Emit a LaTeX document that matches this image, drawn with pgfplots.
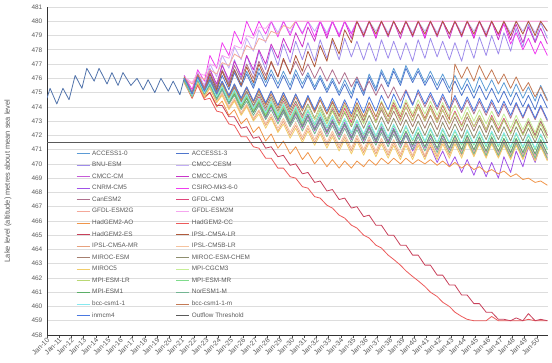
\documentclass[border=0pt]{standalone}
\usepackage{fontspec}
\setmainfont{Liberation Sans}
\usepackage{pgfplots}
\usepackage{pgfplotstable}
\pgfplotsset{compat=1.18}
\definecolor{k1}{HTML}{5B9BD5}
\definecolor{k2}{HTML}{4F76CC}
\definecolor{k3}{HTML}{9F8CEB}
\definecolor{k4}{HTML}{C3AFF5}
\definecolor{k5}{HTML}{C65BD8}
\definecolor{k6}{HTML}{C934C9}
\definecolor{k7}{HTML}{A052E8}
\definecolor{k8}{HTML}{F03CF0}
\definecolor{k9}{HTML}{B0708E}
\definecolor{k10}{HTML}{E0457B}
\definecolor{k11}{HTML}{F4A89A}
\definecolor{k12}{HTML}{F5A6EF}
\definecolor{k13}{HTML}{F0954A}
\definecolor{k14}{HTML}{EC5B5B}
\definecolor{k15}{HTML}{C8405A}
\definecolor{k16}{HTML}{B05A3C}
\definecolor{k17}{HTML}{E8A27E}
\definecolor{k18}{HTML}{F6C39E}
\definecolor{k19}{HTML}{A67F6F}
\definecolor{k20}{HTML}{8E8E6E}
\definecolor{k21}{HTML}{F2CD6A}
\definecolor{k22}{HTML}{C6EE96}
\definecolor{k23}{HTML}{B9D874}
\definecolor{k24}{HTML}{7FDC8C}
\definecolor{k25}{HTML}{5BAE67}
\definecolor{k26}{HTML}{74B593}
\definecolor{k27}{HTML}{86E9F0}
\definecolor{k28}{HTML}{C47A55}
\definecolor{k29}{HTML}{4A78E0}
\definecolor{histcol}{HTML}{5173AB}
\definecolor{thr}{HTML}{5A5A5A}
\definecolor{txt}{HTML}{595959}
\definecolor{grd}{HTML}{DDDDDD}

\pgfplotstableread{
x c1 c2 c3 c4 c5 c6 c7 c8 c9 c10 c11 c12 c13 c14 c15 c16 c17 c18 c19 c20 c21 c22 c23 c24 c25 c26 c27 c28 c29
2021.2 476.1 476.0 476.2 476.2 475.9 476.0 475.9 476.2 476.1 476.0 476.0 476.1 475.8 475.7 475.8 476.0 475.8 475.8 476.1 476.0 475.7 476.0 475.9 476.0 475.9 475.8 476.0 476.1 476.0
2021.85 475.0 474.9 474.9 475.0 474.8 474.9 474.8 475.2 475.0 474.8 475.6 475.7 474.6 474.6 474.7 474.9 474.7 474.7 474.9 474.9 474.7 474.8 474.8 474.8 474.8 474.7 474.8 474.9 474.9
2022.3 476.2 476.1 476.4 476.4 475.9 476.3 476.0 476.6 476.3 476.1 476.2 476.4 475.6 475.5 475.7 476.2 475.8 475.8 476.2 476.1 475.7 476.0 476.0 476.0 475.9 475.9 476.0 476.2 476.1
2022.85 475.2 475.1 475.1 475.5 474.9 475.3 475.0 475.8 475.3 475.1 475.9 476.2 474.6 474.5 474.7 475.1 474.8 474.8 475.2 475.1 474.7 475.0 475.0 475.0 474.9 474.9 475.0 475.2 475.1
2023.3 476.3 476.1 476.7 477.0 475.6 476.6 475.6 477.6 476.4 475.8 476.6 477.0 475.0 474.6 475.0 476.3 475.3 475.4 476.0 475.9 475.3 475.8 475.7 475.7 475.6 475.5 475.7 475.9 475.9
2023.85 475.3 475.1 475.4 476.1 474.6 475.6 474.6 476.7 475.4 474.8 476.3 476.8 474.0 473.7 474.1 475.2 474.3 474.4 475.0 474.9 474.3 474.8 474.7 474.7 474.6 474.5 474.7 474.9 474.9
2024.3 476.5 476.2 477.0 477.6 475.2 476.9 475.3 478.5 476.6 475.5 477.1 477.6 474.4 473.6 474.1 476.5 474.9 475.0 475.8 475.6 474.8 475.5 475.4 475.4 475.3 475.2 475.4 475.7 475.8
2024.85 475.5 475.2 475.7 476.7 474.2 475.9 474.3 477.6 475.6 474.5 476.9 477.4 473.4 472.8 473.3 475.4 473.9 474.0 474.8 474.6 473.8 474.5 474.4 474.4 474.3 474.2 474.4 474.7 474.8
2025.3 476.6 476.4 477.3 478.2 474.9 477.2 475.0 479.3 476.9 475.3 477.7 478.3 473.8 472.7 473.3 476.6 474.5 474.6 475.6 475.4 474.4 475.2 475.0 475.1 474.9 474.8 475.2 475.5 475.6
2025.85 475.6 475.4 476.0 477.3 473.9 476.2 474.0 478.4 475.9 474.3 477.4 478.1 472.8 471.9 472.5 475.5 473.5 473.6 474.6 474.4 473.4 474.2 474.0 474.1 473.9 473.8 474.2 474.5 474.6
2026.3 476.5 476.3 477.6 478.8 474.6 477.6 474.7 480.0 477.0 475.0 478.3 479.0 473.2 471.9 472.6 476.8 474.1 474.2 475.4 475.1 474.0 474.9 474.7 474.8 474.6 474.4 474.9 475.3 475.4
2026.85 475.5 475.3 476.3 477.9 473.6 476.6 473.7 479.0 476.0 474.0 478.0 478.8 472.2 471.2 471.8 475.7 473.1 473.2 474.4 474.1 473.0 473.9 473.7 473.8 473.6 473.4 473.9 474.3 474.4
2027.3 476.7 476.4 477.9 479.4 474.2 478.0 474.4 480.0 477.2 474.7 478.8 479.6 472.6 471.1 471.9 477.0 473.7 473.8 475.2 474.9 473.5 474.6 474.4 474.5 474.3 474.1 474.6 475.1 475.3
2027.85 475.7 475.4 476.6 478.5 473.2 477.0 473.4 479.1 476.2 473.7 478.6 479.5 471.6 470.4 471.1 475.9 472.7 472.8 474.2 473.9 472.5 473.6 473.4 473.5 473.3 473.1 473.6 474.1 474.3
2028.3 476.6 476.3 478.2 480.0 474.0 478.4 474.1 480.0 477.1 474.5 479.3 480.0 472.1 470.4 471.2 477.2 473.3 473.5 475.1 474.7 473.2 474.5 474.2 474.3 474.1 473.8 474.4 474.9 475.1
2028.85 475.6 475.3 476.9 479.2 473.0 477.4 473.1 478.9 476.1 473.5 479.1 480.0 471.1 469.7 470.5 476.1 472.3 472.5 474.1 473.7 472.2 473.5 473.2 473.3 473.1 472.8 473.4 473.9 474.1
2029.3 476.5 476.2 478.4 480.0 473.7 478.8 473.9 480.0 477.3 474.4 479.7 480.0 471.6 469.7 470.6 477.4 473.0 473.2 475.0 474.6 472.8 474.3 474.0 474.1 473.8 473.6 474.2 474.8 475.0
2029.85 475.5 475.2 477.1 479.2 472.7 477.8 472.9 479.0 476.3 473.4 479.5 480.0 470.7 469.1 469.9 476.3 472.0 472.2 474.0 473.6 471.8 473.3 473.0 473.1 472.8 472.6 473.2 473.8 474.0
2030.3 476.6 476.3 478.6 480.0 473.5 479.2 473.7 480.0 477.2 474.2 480.0 480.0 471.2 469.0 470.0 477.6 472.7 472.9 474.9 474.4 472.5 474.1 473.8 473.9 473.6 473.3 474.0 474.7 474.9
2030.85 475.6 475.3 477.3 479.2 472.5 478.2 472.7 479.1 476.2 473.2 480.0 480.0 470.3 468.4 469.3 476.5 471.7 471.9 473.9 473.4 471.5 473.1 472.8 472.9 472.6 472.3 473.0 473.7 473.9
2031.3 476.4 476.2 478.5 480.0 473.3 479.6 473.5 480.0 477.0 474.1 480.0 480.0 470.8 468.3 469.4 477.9 472.5 472.7 474.7 474.2 472.3 474.1 473.8 473.7 473.4 473.1 473.8 474.6 474.8
2031.85 475.4 475.2 477.2 479.3 472.3 478.6 472.5 478.9 476.0 473.1 480.0 480.0 470.0 467.7 468.7 476.8 471.5 471.7 473.7 473.2 471.3 473.1 472.8 472.7 472.4 472.1 472.8 473.6 473.8
2032.3 476.2 476.0 478.7 480.0 473.1 480.0 473.3 480.0 476.8 474.1 480.0 480.0 470.5 467.6 468.8 478.3 472.3 472.5 474.5 474.0 472.1 474.1 473.8 473.5 473.2 472.9 473.6 474.5 474.7
2032.85 475.2 475.0 477.4 479.2 472.1 478.8 472.3 479.0 475.8 473.1 480.0 480.0 469.8 467.1 468.1 477.2 471.3 471.5 473.5 473.0 471.1 473.1 472.8 472.5 472.2 471.9 472.6 473.5 473.7
2033.3 476.0 475.8 478.6 480.0 472.9 480.0 473.1 480.0 476.6 474.0 480.0 480.0 470.3 466.9 468.2 478.8 472.1 472.3 474.3 473.8 471.9 474.1 473.7 473.3 473.0 472.7 473.4 474.4 474.6
2033.85 475.0 474.8 477.3 479.1 471.9 478.9 472.1 479.0 475.6 473.0 480.0 480.0 469.7 466.4 467.5 477.7 471.1 471.3 473.3 472.8 470.9 473.1 472.7 472.3 472.0 471.7 472.4 473.4 473.6
2034.3 475.9 475.6 478.8 480.0 472.7 480.0 472.9 480.0 476.4 473.9 480.0 480.0 470.2 466.2 467.6 479.4 471.9 472.1 474.1 473.6 471.7 474.1 473.7 473.1 472.8 472.5 473.2 474.3 474.5
2034.85 474.9 474.6 477.5 479.2 471.7 478.8 471.9 479.1 475.4 472.9 480.0 480.0 469.7 465.7 466.9 478.5 470.9 471.1 473.1 472.6 470.7 473.1 472.7 472.1 471.8 471.5 472.2 473.3 473.5
2035.3 476.0 475.8 478.6 480.0 472.6 480.0 472.8 480.0 476.1 474.0 480.0 480.0 470.2 465.5 467.0 480.0 471.8 472.0 474.0 473.5 471.6 474.2 473.8 473.0 472.7 472.4 473.1 474.3 474.6
2035.85 475.0 474.8 477.3 479.2 471.6 478.9 471.8 479.0 475.1 473.0 480.0 480.0 469.8 465.0 466.3 479.0 470.8 471.0 473.0 472.5 470.6 473.2 472.8 472.0 471.7 471.4 472.1 473.3 473.6
2036.3 476.3 476.1 478.5 480.0 472.5 480.0 472.7 480.0 475.8 474.0 480.0 480.0 470.3 464.8 466.4 480.0 471.7 471.9 473.9 473.4 471.5 474.3 473.9 472.9 472.6 472.3 473.0 474.3 474.7
2036.85 475.3 475.1 477.2 479.3 471.5 478.8 471.7 478.9 474.8 473.0 480.0 480.0 469.9 464.3 465.7 479.1 470.7 470.9 472.9 472.4 470.5 473.3 472.9 471.9 471.6 471.3 472.0 473.3 473.7
2037.3 476.6 476.4 478.7 480.0 472.4 480.0 472.6 480.0 475.6 474.0 480.0 480.0 470.4 464.1 465.7 480.0 471.6 471.8 473.8 473.3 471.4 474.4 474.0 472.8 472.5 472.2 472.9 474.3 474.8
2037.85 475.6 475.4 477.4 479.2 471.4 478.9 471.6 479.0 474.6 473.0 480.0 480.0 470.0 463.6 465.0 479.0 470.6 470.8 472.8 472.3 470.4 473.4 473.0 471.8 471.5 471.2 471.9 473.3 473.8
2038.3 476.7 476.5 478.6 480.0 472.3 480.0 472.5 480.0 475.4 474.1 480.0 480.0 470.4 463.3 465.0 480.0 471.5 471.7 473.7 473.2 471.3 474.5 474.0 472.7 472.4 472.1 472.8 474.3 474.9
2038.85 475.7 475.5 477.3 479.1 471.3 478.8 471.5 479.1 474.4 473.1 480.0 480.0 470.0 462.9 464.3 479.1 470.5 470.7 472.7 472.2 470.3 473.5 473.0 471.7 471.4 471.1 471.8 473.3 473.9
2039.3 476.9 476.7 478.5 480.0 472.2 480.0 472.0 480.0 475.2 474.0 480.0 480.0 470.4 462.5 464.3 480.0 471.5 471.6 473.6 473.1 471.3 474.5 474.0 472.6 472.3 472.0 472.7 474.3 475.1
2039.85 475.9 475.7 477.2 479.2 471.2 478.9 470.9 479.0 474.2 473.0 480.0 480.0 470.0 462.1 463.6 479.0 470.5 470.6 472.6 472.1 470.3 473.5 473.0 471.6 471.3 471.0 471.7 473.3 474.1
2040.3 476.7 476.5 478.7 480.0 472.1 480.0 471.6 480.0 475.0 474.0 480.0 480.0 470.3 461.8 463.6 480.0 471.5 471.6 473.5 473.0 471.3 474.5 474.0 472.5 472.2 471.9 472.6 474.2 475.2
2040.85 475.7 475.5 477.4 479.3 471.1 478.8 470.5 478.9 474.0 473.0 480.0 480.0 470.0 461.4 462.9 479.1 470.5 470.6 472.5 472.0 470.3 473.5 473.0 471.5 471.2 470.9 471.6 473.2 474.2
2041.3 476.5 476.2 478.8 480.0 472.0 480.0 471.2 480.0 474.8 473.9 480.0 480.0 470.3 461.0 462.9 480.0 471.5 471.6 473.4 472.9 471.3 474.4 473.9 472.4 472.1 471.8 472.5 474.1 475.0
2041.85 475.5 475.2 477.5 479.2 471.0 478.9 470.1 479.0 473.8 472.9 480.0 480.0 469.9 460.7 462.2 479.0 470.5 470.6 472.4 471.9 470.3 473.4 472.9 471.4 471.1 470.8 471.5 473.1 474.0
2042.3 476.3 476.0 478.6 480.0 472.0 480.0 470.9 480.0 474.7 473.8 480.0 480.0 470.2 460.3 462.2 480.0 471.6 471.7 473.4 472.9 471.4 474.3 473.8 472.4 472.1 471.8 472.5 474.1 474.9
2042.85 475.3 475.0 477.3 479.1 471.0 478.8 469.8 479.1 473.7 472.8 480.0 480.0 469.8 460.0 461.5 479.1 470.6 470.7 472.4 471.9 470.4 473.3 472.8 471.4 471.1 470.8 471.5 473.1 473.9
2043.3 476.2 475.8 478.5 480.0 471.9 480.0 470.5 480.0 474.6 473.7 480.0 480.0 470.1 459.6 461.5 480.0 471.6 471.8 473.3 472.8 471.4 474.1 473.6 472.3 472.0 471.7 472.4 477.0 474.8
2043.85 475.2 474.8 477.2 479.2 470.9 478.9 469.4 479.0 473.6 472.7 480.0 480.0 469.7 459.3 460.8 479.0 470.6 470.8 472.3 471.8 470.4 473.1 472.6 471.3 471.0 470.7 471.4 476.0 473.8
2044.3 476.0 475.6 478.7 480.0 471.9 480.0 470.3 480.0 474.5 473.6 480.0 480.0 470.0 459.1 460.8 480.0 471.6 471.8 473.3 472.8 471.5 474.0 473.6 472.3 472.0 471.7 472.4 476.8 474.7
2044.85 475.0 474.6 477.4 479.3 470.9 478.8 469.2 478.9 473.5 472.6 480.0 480.0 469.6 459.0 460.2 479.1 470.6 470.8 472.3 471.8 470.5 473.0 472.6 471.3 471.0 470.7 471.4 475.8 473.7
2045.3 476.1 475.5 478.9 480.0 471.8 480.0 470.2 480.0 474.4 473.4 480.0 480.0 469.8 459.0 460.2 480.0 471.5 471.7 473.2 472.7 471.4 473.8 473.4 472.2 471.9 471.6 472.3 476.9 474.6
2045.85 475.1 474.5 477.6 479.2 470.8 478.9 469.1 479.0 473.4 472.4 480.0 480.0 469.4 459.0 459.6 479.0 470.5 470.7 472.2 471.7 470.4 472.8 472.4 471.2 470.9 470.6 471.3 475.9 473.6
2046.3 475.9 475.3 479.0 480.0 471.8 480.0 470.1 480.0 474.3 473.4 480.0 480.0 469.6 459.3 459.6 480.0 471.5 471.7 473.2 472.7 471.4 473.7 473.3 472.2 471.9 471.6 472.3 476.6 474.5
2046.85 474.9 474.3 477.7 479.1 470.8 478.7 469.0 479.0 473.3 472.4 480.0 480.0 469.3 459.0 459.1 479.1 470.5 470.7 472.2 471.7 470.4 472.7 472.3 471.2 470.9 470.6 471.3 475.6 473.5
2047.3 475.7 475.1 479.2 480.0 471.7 480.0 470.5 479.8 474.2 473.2 480.0 480.0 469.5 459.0 459.1 480.0 471.4 471.6 473.1 472.6 471.3 473.5 473.1 472.1 471.8 471.5 472.2 476.3 474.4
2047.85 474.7 474.1 477.9 479.2 470.7 478.7 469.4 478.4 473.2 472.2 480.0 480.0 469.1 459.0 459.0 479.0 470.4 470.6 472.1 471.6 470.3 472.5 472.1 471.1 470.8 470.5 471.2 475.3 473.4
2048.3 475.6 475.0 479.5 480.0 471.7 479.8 470.9 479.2 474.2 473.1 480.0 480.0 469.3 459.0 459.2 480.0 471.4 471.6 473.1 472.6 471.3 473.4 473.0 472.1 471.8 471.5 472.2 476.1 474.3
2048.85 474.6 474.0 478.2 479.3 470.7 478.5 469.8 478.0 473.2 472.1 480.0 480.0 468.9 459.0 459.0 479.1 470.4 470.6 472.1 471.6 470.3 472.4 472.0 471.1 470.8 470.5 471.2 475.1 473.3
2049.3 475.4 474.8 479.8 480.0 471.6 479.6 471.2 478.8 474.1 473.0 480.0 480.0 469.0 459.1 459.5 480.0 471.3 471.5 473.0 472.5 471.2 473.2 472.8 472.0 471.7 471.4 472.1 475.7 474.2
2049.85 474.4 473.8 478.6 479.2 470.6 478.5 470.1 477.7 473.1 472.0 480.0 480.0 468.7 459.0 459.0 479.0 470.3 470.5 472.0 471.5 470.2 472.2 471.8 471.0 470.7 470.4 471.1 474.7 473.2
2050.3 475.5 474.9 479.9 480.0 471.6 479.5 471.4 478.6 474.0 473.0 480.0 480.0 468.8 459.0 459.1 480.0 471.3 471.5 473.0 472.5 471.2 473.2 472.8 472.0 471.7 471.4 472.1 475.4 474.1
2050.85 474.5 473.9 478.8 479.3 470.6 478.4 470.3 477.6 473.0 472.0 480.0 480.0 468.5 459.0 459.0 479.3 470.3 470.5 472.0 471.5 470.2 472.2 471.8 471.0 470.7 470.4 471.1 474.4 473.1
}\models

\pgfplotsset{ser/.style={line width=0.8pt, line join=round}}

\begin{document}
\begin{tikzpicture}
\useasboundingbox (-47bp,-28bp) rectangle (505bp,335bp);
\begin{axis}[
  scale only axis, width=501bp, height=328bp,
  xmin=2010, xmax=2050.9, ymin=458, ymax=481,
  axis x line*=bottom, axis y line*=left,
  axis line style={-, draw=black!80, line width=0.7pt},
  ytick={458,459,...,481},
  xtick={2010,2011,...,2050},
  xticklabels={Jan-10,Jan-11,Jan-12,Jan-13,Jan-14,Jan-15,Jan-16,Jan-17,Jan-18,Jan-19,Jan-20,Jan-21,Jan-22,Jan-23,Jan-24,Jan-25,Jan-26,Jan-27,Jan-28,Jan-29,Jan-30,Jan-31,Jan-32,Jan-33,Jan-34,Jan-35,Jan-36,Jan-37,Jan-38,Jan-39,Jan-40,Jan-41,Jan-42,Jan-43,Jan-44,Jan-45,Jan-46,Jan-47,Jan-48,Jan-49,Jan-50},
  /pgf/number format/assume math mode=true,
  /pgf/number format/set thousands separator={},
  tick label style={font=\fontsize{6.5}{7}\selectfont, text=txt},
  x tick label style={font=\fontsize{7}{7}\selectfont, rotate=45, anchor=east, inner sep=1pt, xshift=1bp, yshift=-2bp},
  y tick label style={inner sep=2pt},
  ytick style={draw=none},
  xtick style={draw=black!70, line width=0.5pt},
  tick align=outside, major tick length=2.5bp,
  ymajorgrids, grid style={draw=grd, line width=0.6pt},
  every axis y label/.style={at={(axis description cs:-0.078,0.47)}, rotate=90, anchor=center},
  ylabel={Lake level (altitude) metres about mean sea level},
  ylabel style={font=\fontsize{7.5}{8}\selectfont, text=txt},
  legend columns=2,
  legend cell align=left,
  legend image code/.code={\draw[#1, line width=1pt] (0bp,0bp) -- (13bp,0bp);},
  legend style={at={(axis description cs:0.052,0.575)}, anchor=north west,
    draw=none, fill=none, font=\fontsize{6.4}{7}\selectfont, text=txt,
    row sep=1.6bp,
    /tikz/every even column/.append style={column sep=36bp}},
]
\addplot[ser, histcol, forget plot] coordinates {
(2010.0,474.6) (2010.25,475.3) (2010.8,474.2) (2011.3,475.3) (2011.8,474.5) (2012.3,476.2) (2012.85,475.3) (2013.25,476.7) (2013.85,475.8) (2014.25,476.7) (2014.9,475.6) (2015.3,476.4) (2015.8,475.5) (2016.2,476.4) (2016.85,475.5) (2017.35,476.0) (2017.85,475.2) (2018.25,475.9) (2018.8,475.0) (2019.3,476.0) (2019.9,475.1) (2020.3,475.8) (2020.85,474.85) (2021.2,476.0)};
\addplot[ser, k1] table[x=x, y=c1] {\models}; \addlegendentry{ACCESS1-0}
\addplot[ser, k2] table[x=x, y=c2] {\models}; \addlegendentry{ACCESS1-3}
\addplot[ser, k3] table[x=x, y=c3] {\models}; \addlegendentry{BNU-ESM}
\addplot[ser, k4] table[x=x, y=c4] {\models}; \addlegendentry{CMCC-CESM}
\addplot[ser, k5] table[x=x, y=c5] {\models}; \addlegendentry{CMCC-CM}
\addplot[ser, k6] table[x=x, y=c6] {\models}; \addlegendentry{CMCC-CMS}
\addplot[ser, k7] table[x=x, y=c7] {\models}; \addlegendentry{CNRM-CM5}
\addplot[ser, k8] table[x=x, y=c8] {\models}; \addlegendentry{CSIRO-Mk3-6-0}
\addplot[ser, k9] table[x=x, y=c9] {\models}; \addlegendentry{CanESM2}
\addplot[ser, k10] table[x=x, y=c10] {\models}; \addlegendentry{GFDL-CM3}
\addplot[ser, k11] table[x=x, y=c11] {\models}; \addlegendentry{GFDL-ESM2G}
\addplot[ser, k12] table[x=x, y=c12] {\models}; \addlegendentry{GFDL-ESM2M}
\addplot[ser, k13] table[x=x, y=c13] {\models}; \addlegendentry{HadGEM2-AO}
\addplot[ser, k14] table[x=x, y=c14] {\models}; \addlegendentry{HadGEM2-CC}
\addplot[ser, k15] table[x=x, y=c15] {\models}; \addlegendentry{HadGEM2-ES}
\addplot[ser, k16] table[x=x, y=c16] {\models}; \addlegendentry{IPSL-CM5A-LR}
\addplot[ser, k17] table[x=x, y=c17] {\models}; \addlegendentry{IPSL-CM5A-MR}
\addplot[ser, k18] table[x=x, y=c18] {\models}; \addlegendentry{IPSL-CM5B-LR}
\addplot[ser, k19] table[x=x, y=c19] {\models}; \addlegendentry{MIROC-ESM}
\addplot[ser, k20] table[x=x, y=c20] {\models}; \addlegendentry{MIROC-ESM-CHEM}
\addplot[ser, k21] table[x=x, y=c21] {\models}; \addlegendentry{MIROC5}
\addplot[ser, k22] table[x=x, y=c22] {\models}; \addlegendentry{MPI-CGCM3}
\addplot[ser, k23] table[x=x, y=c23] {\models}; \addlegendentry{MPI-ESM-LR}
\addplot[ser, k24] table[x=x, y=c24] {\models}; \addlegendentry{MPI-ESM-MR}
\addplot[ser, k25] table[x=x, y=c25] {\models}; \addlegendentry{MPI-ESM1}
\addplot[ser, k26] table[x=x, y=c26] {\models}; \addlegendentry{NorESM1-M}
\addplot[ser, k27] table[x=x, y=c27] {\models}; \addlegendentry{bcc-csm1-1}
\addplot[ser, k28] table[x=x, y=c28] {\models}; \addlegendentry{bcc-csm1-1-m}
\addplot[ser, k29] table[x=x, y=c29] {\models}; \addlegendentry{inmcm4}
\addplot[thr, line width=1.1pt] coordinates {(2010,471.5) (2050.9,471.5)}; \addlegendentry{Outflow Threshold}
\end{axis}
\end{tikzpicture}
\end{document}
